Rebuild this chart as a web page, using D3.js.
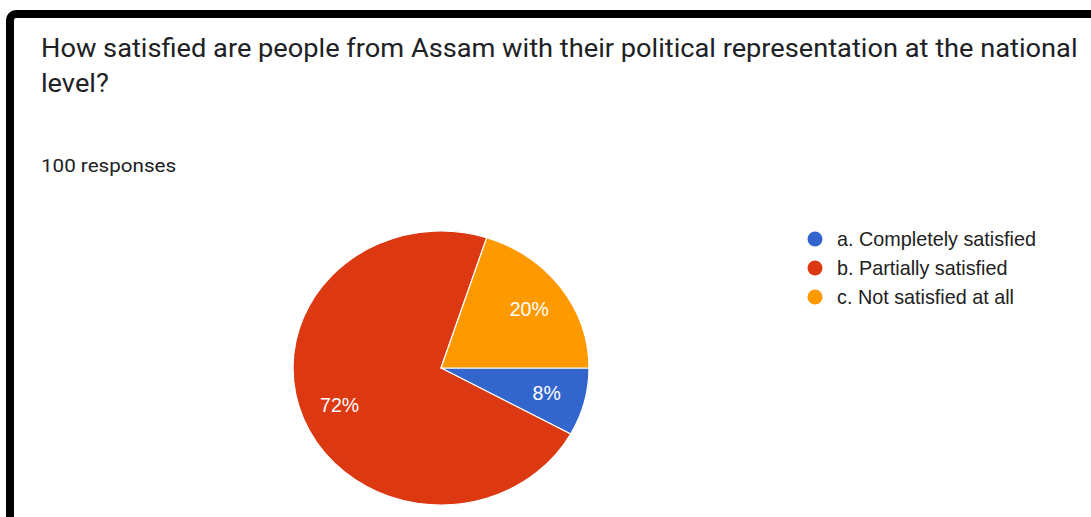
<!DOCTYPE html>
<html>
<head>
<meta charset="utf-8">
<script src="https://cdn.jsdelivr.net/npm/d3@7"></script>
<style>
  html, body { margin: 0; padding: 0; background: #fff; }
  svg { display: block; }
</style>
</head>
<body>
<svg id="chart" width="1091" height="517"></svg>
<script>
// Survey answers and their share of the 100 responses
const categories = ["a. Completely satisfied", "b. Partially satisfied", "c. Not satisfied at all"];
const values = [8, 72, 20];
const colors = ["#3366cc", "#dc3912", "#ff9900"];
const titleLines = [
  "How satisfied are people from Assam with their political representation at the national",
  "level?"
];
const responsesText = "100 responses";

const svg = d3.select("#chart");
const W = 1091, H = 517;
const sx = 1.08; // horizontal stretch of the whole card

svg.append("rect").attr("width", W).attr("height", H).attr("fill", "#fff");

// Card frame (runs off the right and bottom edges)
svg.append("rect")
  .attr("x", 10).attr("y", 14)
  .attr("width", W + 40).attr("height", H + 40)
  .attr("rx", 6)
  .attr("fill", "none")
  .attr("stroke", "#000")
  .attr("stroke-width", 8);

// Question title
const header = svg.append("g").attr("transform", `translate(41,0) scale(${sx},1)`);
const title = header.append("text")
  .attr("font-family", "Roboto, sans-serif")
  .attr("font-size", 25.2)
  .attr("fill", "#202124");
titleLines.forEach((t, i) => {
  title.append("tspan").attr("x", 0).attr("y", 57 + i * 35).text(t);
});

header.append("text")
  .attr("x", 0).attr("y", 172)
  .attr("font-family", "Roboto, sans-serif")
  .attr("font-size", 19.1)
  .attr("fill", "#202124")
  .text(responsesText);

// Pie
const cx = 441, cy = 368, r = 137;
const data = categories.map((c, i) => ({ name: c, value: values[i], color: colors[i] }));
const pie = d3.pie().sort(null).value(d => d.value)
  .startAngle(Math.PI / 2).endAngle(Math.PI / 2 + 2 * Math.PI);
const arcs = pie(data);
const arc = d3.arc().innerRadius(0).outerRadius(r);
const labelArc = d3.arc().innerRadius(101).outerRadius(101);

const g = svg.append("g").attr("transform", `translate(${cx},${cy}) scale(${sx},1)`);
g.selectAll("path").data(arcs).join("path")
  .attr("d", arc)
  .attr("fill", d => d.data.color)
  .attr("stroke", "#fff")
  .attr("stroke-width", 1.2)
  .attr("vector-effect", "non-scaling-stroke");

const total = d3.sum(values);
svg.append("g").selectAll("text").data(arcs).join("text")
  .attr("x", d => cx + labelArc.centroid(d)[0] * sx)
  .attr("y", d => cy + labelArc.centroid(d)[1])
  .attr("text-anchor", "middle")
  .attr("dominant-baseline", "central")
  .attr("font-family", "Arial, 'Liberation Sans', sans-serif")
  .attr("font-size", 19.5)
  .attr("fill", "#fff")
  .text(d => Math.round(d.data.value / total * 100) + "%");

// Legend
const legend = svg.append("g").attr("transform", "translate(815,239)");
const rows = legend.selectAll("g").data(data).join("g")
  .attr("transform", (d, i) => `translate(0,${i * 29})`);
rows.append("circle").attr("r", 7.5).attr("fill", d => d.color);
rows.append("text")
  .attr("x", 22).attr("y", 0)
  .attr("dominant-baseline", "central")
  .attr("font-family", "Arial, 'Liberation Sans', sans-serif")
  .attr("font-size", 19.8)
  .attr("fill", "#222")
  .text(d => d.name);
</script>
</body>
</html>
